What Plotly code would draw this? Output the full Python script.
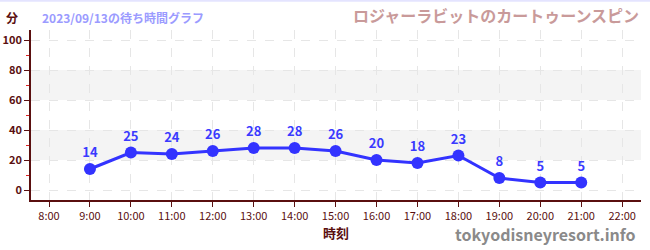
import plotly.graph_objects as go

hours = [9, 10, 11, 12, 13, 14, 15, 16, 17, 18, 19, 20, 21]
waits = [14, 25, 24, 26, 28, 28, 26, 20, 18, 23, 8, 5, 5]
tick_hours = list(range(8, 23))
tick_labels = [f"{h}:00" for h in tick_hours]
y_ticks = [0, 20, 40, 60, 80, 100]
title_left = "2023/09/13の待ち時間グラフ"
title_right = "ロジャーラビットのカートゥーンスピン"

FONT = "Noto Sans CJK JP"
DARK = "#5a0f0f"

fig = go.Figure()
fig.add_trace(go.Scatter(
    x=hours, y=waits, mode="lines+markers+text",
    text=[str(v) for v in waits], textposition="top center",
    textfont=dict(family=FONT, size=13, color="#3a3aff", weight="bold"),
    line=dict(color="#3333ff", width=3),
    marker=dict(color="#3333ff", size=12),
    cliponaxis=False, hoverinfo="skip", showlegend=False,
))

for y0, y1 in [(20, 40), (60, 80)]:
    fig.add_shape(type="rect", xref="paper", x0=0, x1=1, yref="y", y0=y0, y1=y1,
                  fillcolor="#f4f4f4", line_width=0, layer="below")

fig.add_shape(type="line", xref="paper", yref="paper", x0=-0.1, x1=1.1, y0=1.172, y1=1.172,
              line=dict(color="#e4e4ff", width=2))

fig.update_layout(
    width=650, height=250,
    margin=dict(l=31, r=9, t=30, b=50),
    plot_bgcolor="white", paper_bgcolor="white",
    font=dict(family=FONT, color=DARK),
    xaxis=dict(
        range=[7.56, 22.46], tickmode="array", tickvals=tick_hours, ticktext=tick_labels,
        tickfont=dict(size=11, color=DARK, family=FONT), ticks="outside", ticklen=5,
        tickcolor=DARK, showline=True, linecolor=DARK, linewidth=1.5,
        showgrid=True, gridcolor="#e6e6e6", griddash="dash", gridwidth=1,
        zeroline=False, fixedrange=True, automargin=False,
        title=dict(text="<b>時刻</b>", font=dict(size=13, color=DARK, family=FONT), standoff=6),
    ),
    yaxis=dict(
        range=[-6.67, 106.67], tickmode="array", tickvals=y_ticks,
        tickfont=dict(size=11, color=DARK, family=FONT, weight="bold"), ticks="outside", ticklen=5,
        tickcolor=DARK, showline=True, linecolor=DARK, linewidth=1.5,
        showgrid=True, gridcolor="#e6e6e6", griddash="dash", gridwidth=1,
        zeroline=False, fixedrange=True, automargin=False,
        minor=dict(tickvals=[10, 30, 50, 70, 90], ticks="outside", ticklen=3,
                   tickcolor="#dd2222", showgrid=False),
    ),
    annotations=[
        dict(text="<b>分</b>", xref="paper", yref="paper", x=-0.045, y=1.076, xanchor="left",
             yanchor="middle", showarrow=False, font=dict(size=12, color=DARK, family=FONT)),
        dict(text="<b>" + title_left + "</b>", xref="paper", yref="paper", x=0.015, y=1.076,
             xanchor="left", yanchor="middle", showarrow=False,
             font=dict(size=12, color="#9b9bff", family=FONT)),
        dict(text="<b>" + title_right + "</b>", xref="paper", yref="paper", x=1.0, y=1.09,
             xanchor="right", yanchor="middle", showarrow=False,
             font=dict(size=16, color="#c99a9a", family=FONT)),
        dict(text="<b>tokyodisneyresort.info</b>", xref="paper", yref="paper", x=0.995, y=-0.2,
             xanchor="right", yanchor="middle", showarrow=False,
             font=dict(size=16, color="#8a8a8a", family=FONT)),
    ],
)

fig.write_html("out.html")
